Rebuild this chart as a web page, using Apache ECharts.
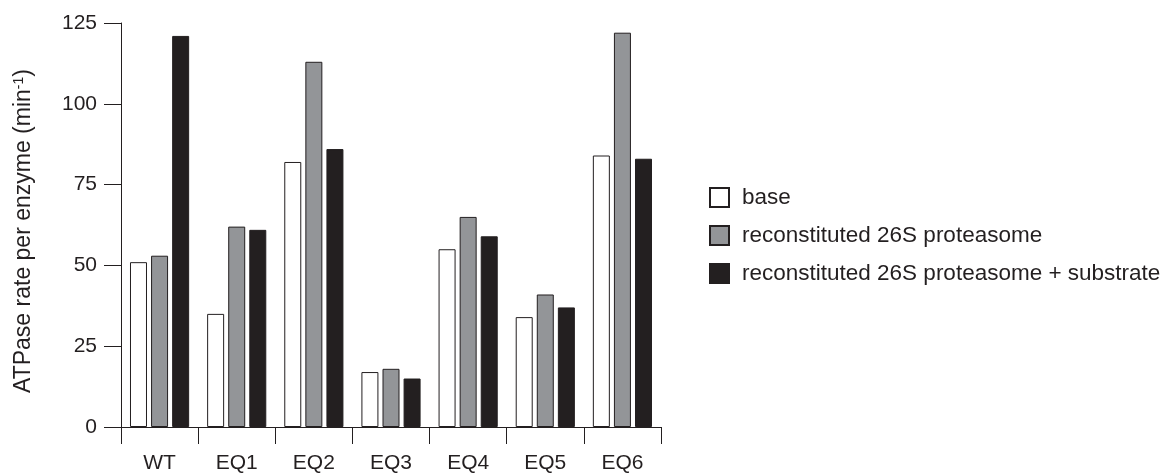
<!DOCTYPE html>
<html>
<head>
<meta charset="utf-8">
<script src="https://cdn.jsdelivr.net/npm/echarts@6/dist/echarts.min.js"></script>
<style>html,body{margin:0;padding:0;background:#fff;}#c{width:1165px;height:474px;}</style>
</head>
<body>
<div id="c"></div>
<script>
const categories = ['WT', 'EQ1', 'EQ2', 'EQ3', 'EQ4', 'EQ5', 'EQ6'];
const seriesNames = ['base', 'reconstituted 26S proteasome', 'reconstituted 26S proteasome + substrate'];
const baseValues = [51, 35, 82, 17, 55, 34, 84];
const proteasomeValues = [53, 62, 113, 18, 65, 41, 122];
const substrateValues = [121, 61, 86, 15, 59, 37, 83];
const yTicks = [0, 25, 50, 75, 100, 125];

const ink = '#231f20';
const fills = ['#ffffff', '#939598', '#231f20'];
const font = 'Liberation Sans, Arial, sans-serif';

const chart = echarts.init(document.getElementById('c'), null, {renderer: 'canvas'});
const mk = (name, data, i) => ({
  name, type: 'bar', data,
  barWidth: 17, barGap: '24%',
  itemStyle: {color: fills[i], borderColor: ink, borderWidth: 1},
  emphasis: {disabled: true}
});
chart.setOption({
  animation: false,
  backgroundColor: '#fff',
  grid: {left: 121, top: 23, width: 540, height: 405},
  legend: {
    orient: 'vertical', left: 709, top: 186, padding: 0,
    itemWidth: 19, itemHeight: 19, itemGap: 15,
    icon: 'rect',
    data: seriesNames,
    textStyle: {fontFamily: font, fontSize: 22.5, color: ink, padding: [0, 0, 0, 8]}
  },
  xAxis: {
    type: 'category', data: categories, boundaryGap: true,
    axisLine: {lineStyle: {color: ink, width: 1}},
    axisTick: {show: true, length: 17, lineStyle: {color: ink}},
    axisLabel: {fontFamily: font, fontSize: 21, color: ink, margin: 26}
  },
  yAxis: {
    type: 'value', min: yTicks[0], max: yTicks[yTicks.length - 1], interval: 25,
    axisLine: {show: true, lineStyle: {color: ink, width: 1}},
    axisTick: {show: true, length: 17, lineStyle: {color: ink}},
    splitLine: {show: false},
    axisLabel: {fontFamily: font, fontSize: 21, color: ink, margin: 24},
    name: 'ATPase rate per enzyme (min{sup|-1})',
    nameLocation: 'middle', nameGap: 85, nameRotate: 90,
    nameTextStyle: {fontFamily: font, fontSize: 23, color: ink, padding: [0, 12, 0, 0],
      rich: {sup: {fontFamily: font, fontSize: 14, color: ink, verticalAlign: 'top', padding: [0, 0, 10, 0]}}}
  },
  series: [mk(seriesNames[0], baseValues, 0), mk(seriesNames[1], proteasomeValues, 1), mk(seriesNames[2], substrateValues, 2)]
});
</script>
</body>
</html>
